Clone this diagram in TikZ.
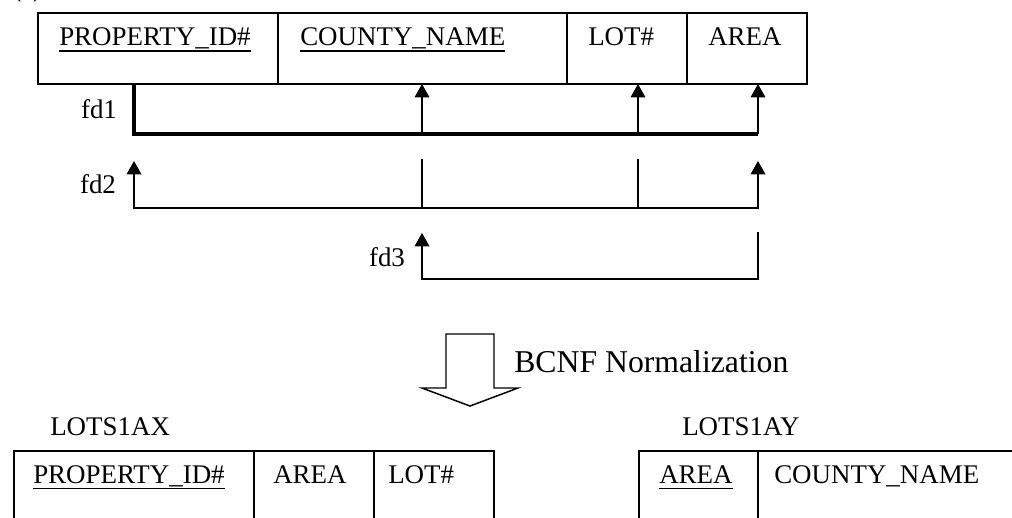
\documentclass[tikz,border=0pt]{standalone}
\usepackage{fontspec}
\setmainfont{Liberation Serif}
\usetikzlibrary{arrows.meta}
\newcommand\ulx[1]{\setbox0\hbox{#1}\rlap{\rule[-0.23em]{\wd0}{0.055em}}\box0}
\begin{document}
\begin{tikzpicture}[x=0.75pt,y=-0.75pt,
  cell/.style={draw, line width=1.6pt, inner sep=0pt, anchor=north west, minimum height=53.25pt},
  bcell/.style={draw, line width=1.6pt, inner sep=0pt, anchor=north west, minimum height=90pt},
  txt/.style={inner sep=0pt, anchor=base west, font=\fontsize{20.2}{24}\selectfont},
  lbl/.style={inner sep=0pt, anchor=center, font=\fontsize{20.2}{24}\selectfont},
  thinln/.style={line width=1.1pt},
  thickln/.style={line width=2.4pt},
  arr/.style={line width=1.1pt, -{Triangle[width=11pt,length=10pt]}},
  arr2/.style={line width=1.1pt, {Triangle[width=11pt,length=10pt]}-{Triangle[width=11pt,length=10pt]}},
  bigarrow/.style={draw, line width=1.1pt}
]
\useasboundingbox (0,0) rectangle (1012,517);
\clip (0,0) rectangle (1012,517);

% clipped caption
\node[txt] (cap) at (12,-3) {(c)};

% top relation
\node[cell, minimum width=180pt]   (t1) at (37,12)  {};
\node[cell, minimum width=216.75pt] (t2) at (277,12) {};
\node[cell, minimum width=90pt]    (t3) at (566,12) {};
\node[cell, minimum width=90pt]    (t4) at (686,12) {};
\node[txt] (t1x) at (59,45.5)  {\ulx{PROPERTY\_ID\#}};
\node[txt] (t2x) at (300,45.5) {\ulx{COUNTY\_NAME}};
\node[txt] (t3x) at (588,45.5) {LOT\#};
\node[txt] (t4x) at (708,45.5) {AREA};

% coordinates for dependency lines
\coordinate (k1) at (134,83);
\coordinate (c2) at (422,84);
\coordinate (c3) at (638,84);
\coordinate (c4) at (758,84);
\coordinate (h1a) at (134,134);
\coordinate (h1b) at (422,134);
\coordinate (h1c) at (638,134);
\coordinate (h1d) at (758,134);

% fd1
\node[lbl] (fd1) at (99,109) {fd1};
\draw[thickln] (k1) -- (h1a) -- (h1d);
\draw[arr] (h1b) -- (c2);
\draw[arr] (h1c) -- (c3);
\draw[arr] (h1d) -- (c4);

% fd2
\node[lbl] (fd2) at (98,184) {fd2};
\coordinate (g1t) at (134,161);
\coordinate (g1b) at (134,208);
\coordinate (g4t) at (758,161);
\coordinate (g4b) at (758,208);
\coordinate (g2t) at (422,159);
\coordinate (g2b) at (422,208);
\coordinate (g3t) at (638,159);
\coordinate (g3b) at (638,208);
\draw[arr2] (g1t) -- (g1b) -- (g4b) -- (g4t);
\draw[thinln] (g2t) -- (g2b);
\draw[thinln] (g3t) -- (g3b);

% fd3
\node[lbl] (fd3) at (387,257) {fd3};
\coordinate (e1t) at (422,233);
\coordinate (e1b) at (422,279);
\coordinate (e2t) at (758,232);
\coordinate (e2b) at (758,279);
\draw[arr] (e2t) -- (e2b) -- (e1b) -- (e1t);

% big arrow
\draw[bigarrow] (446,334) -- (494,334) -- (494,388) -- (518,388) -- (470,406) -- (422,388) -- (446,388) -- cycle;
\node[txt, font=\fontsize{23.8}{28}\selectfont] (bcnf) at (514,372) {BCNF Normalization};

% bottom left relation
\node[txt] (lx) at (50,435) {LOTS1AX};
\node[bcell, minimum width=180pt] (b1) at (13,450)  {};
\node[bcell, minimum width=90pt]  (b2) at (253,450) {};
\node[bcell, minimum width=90pt]  (b3) at (373,450) {};
\node[txt] (b1x) at (33,483)  {\ulx{PROPERTY\_ID\#}};
\node[txt] (b2x) at (273,483) {AREA};
\node[txt] (b3x) at (388,483) {LOT\#};

% bottom right relation
\node[txt] (ly) at (682,435) {LOTS1AY};
\node[bcell, minimum width=89.25pt] (r1) at (638,450) {};
\node[bcell, minimum width=225pt]   (r2) at (757,450) {};
\node[txt] (r1x) at (659,483) {\ulx{AREA}};
\node[txt] (r2x) at (774,483) {COUNTY\_NAME};
\end{tikzpicture}
\end{document}
